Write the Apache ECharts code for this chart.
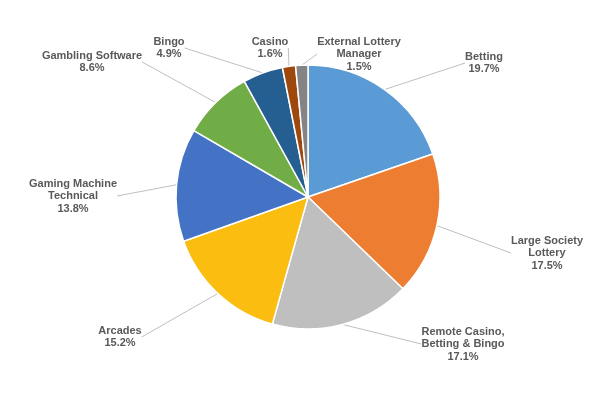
<!DOCTYPE html>
<html>
<head>
<meta charset="UTF-8">
<title></title>
<style>
  html, body { margin: 0; padding: 0; background: #fff; }
  #main { width: 600px; height: 400px; }
</style>
</head>
<body>
<div id="main"></div>
<script src="https://cdn.jsdelivr.net/npm/echarts@6/dist/echarts.min.js"></script>
<script>
// slices, clockwise from 12 o'clock
var names = ['Betting', 'Large Society\nLottery', 'Remote Casino,\nBetting & Bingo', 'Arcades',
  'Gaming Machine\nTechnical', 'Gambling Software', 'Bingo', 'Casino', 'External Lottery\nManager'];
var shares = [19.7, 17.5, 17.1, 15.2, 13.8, 8.6, 4.9, 1.6, 1.5];
var colors = ['#5b9bd5', '#ed7d31', '#bfbfbf', '#fbbd0f', '#4472c4', '#70ad47', '#255e91', '#9e480e', '#848484'];

// where each label sits (centre of text block)
var labelPos = [[484, 63], [547, 253], [463, 344], [120, 337], [73, 196], [92, 62], [169, 48], [270, 48], [359, 54]];

var pieData = [];
for (var i = 0; i < names.length; i++) {
  pieData.push({ name: names[i], value: shares[i], itemStyle: { color: colors[i] } });
}

var myChart = echarts.init(document.getElementById('main'));
var option = {
  backgroundColor: '#fff',
  animation: false,
  series: [{
    type: 'pie',
    center: [308, 197],
    radius: 132,
    startAngle: 90,
    clockwise: true,
    data: pieData,
    itemStyle: { borderColor: '#fff', borderWidth: 1.5 },
    label: {
      show: true,
      formatter: function (p) { return p.name + '\n' + p.value.toFixed(1) + '%'; },
      color: '#595959',
      fontFamily: 'Liberation Sans, Arial, sans-serif',
      fontWeight: 'bold',
      fontSize: 11,
      lineHeight: 12.5,
      align: 'center'
    },
    labelLine: {
      show: true,
      length: 0,
      length2: 0,
      lineStyle: { color: '#bfbfbf', width: 1 }
    },
    labelLayout: function (params) {
      var p = labelPos[params.dataIndex];
      return { x: p[0], y: p[1], align: 'center', verticalAlign: 'middle' };
    }
  }]
};
myChart.setOption(option);
</script>
</body>
</html>
